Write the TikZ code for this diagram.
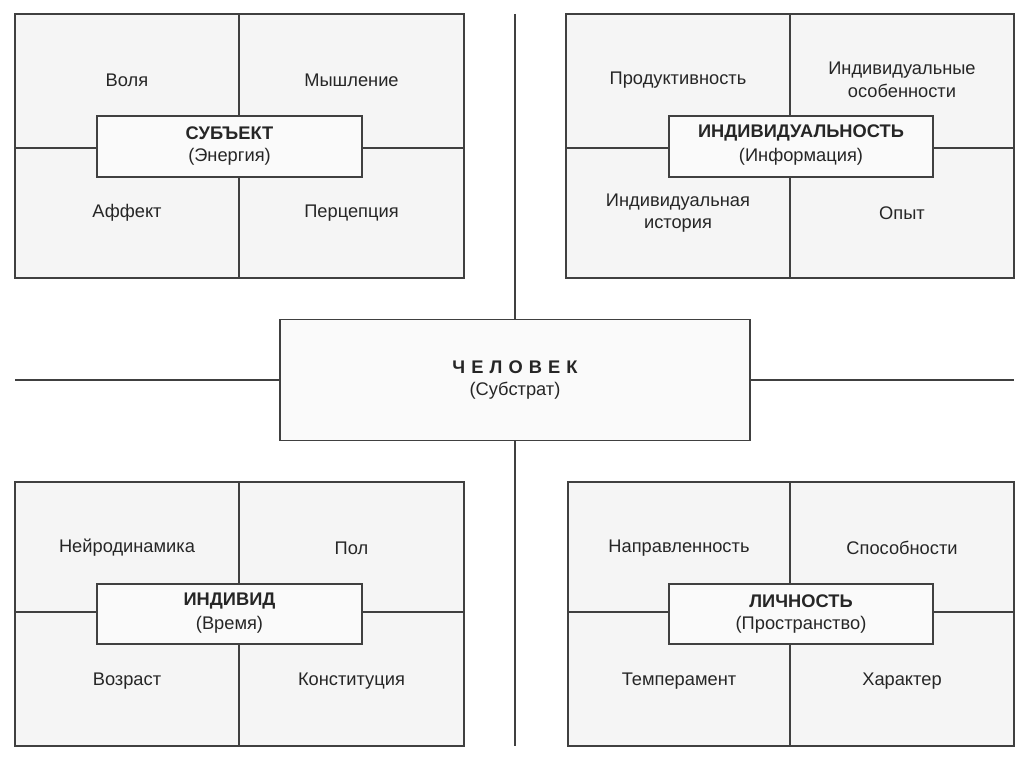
\documentclass[tikz,border=0pt]{standalone}
\usepackage{fontspec}
\setmainfont{Liberation Sans}
\begin{document}
\begin{tikzpicture}[x=0.02cm,y=-0.02cm,
  ln/.style={draw=black!75,line width=0.8pt},
  cell/.style={ln,fill=black!4},
  cbox/.style={ln,fill=black!2},
  txt/.style={font=\fontsize{10.4}{12.8}\selectfont,align=center,text=black!85}]
\useasboundingbox (0,0) rectangle (1024,767);
\coordinate (t) at (515,14); \coordinate (b) at (515,746);
\coordinate (l) at (15,380); \coordinate (r) at (1014,380);
\node[cbox,minimum width=470*0.02cm,minimum height=121*0.02cm] (man) at (515,380) {};
\draw[ln] (t) -- (man.north); \draw[ln] (man.south) -- (b);
\draw[ln] (l) -- (man.west); \draw[ln] (man.east) -- (r);
\node[txt] at (515,367) {\textbf{Ч\,\,Е\,\,Л\,\,О\,\,В\,\,Е\,\,К}};
\node[txt] at (515,391) {(Субстрат)};
\foreach \xa/\xb/\xm/\ya/\yb/\ym/\bx/\by/\bxb/\byb/\ti/\su/\ca/\cb/\cc/\cd in {
 15/464/239/14/278/148/97/116/362/177/СУБЪЕКТ/(Энергия)/Воля/Мышление/Аффект/Перцепция,
 566/1014/790/14/278/148/669/116/933/177/ИНДИВИДУАЛЬНОСТЬ/(Информация)/Продуктивность/{Индивидуальные\\особенности}/{Индивидуальная\\история}/Опыт,
 15/464/239/482/746/612/97/584/362/644/ИНДИВИД/(Время)/Нейродинамика/Пол/Возраст/Конституция,
 568/1014/790/482/746/612/669/584/933/644/ЛИЧНОСТЬ/(Пространство)/Направленность/Способности/Темперамент/Характер}{
 \draw[cell] (\xa,\ya) rectangle (\xb,\yb);
 \draw[ln] (\xm,\ya) -- (\xm,\yb);
 \draw[ln] (\xa,\ym) -- (\xb,\ym);
 \draw[cbox] (\bx,\by) rectangle (\bxb,\byb);
 \node[txt] at ({(\bx+\bxb)/2},{\by+17}) {\textbf{\ti}};
 \node[txt] at ({(\bx+\bxb)/2},{\by+41}) {\su};
 \node[txt] at ({(\xa+\xm)/2},{\ya+66}) {\ca};
 \node[txt] at ({(\xm+\xb)/2},{\ya+66}) {\cb};
 \node[txt] at ({(\xa+\xm)/2},{\ya+199}) {\cc};
 \node[txt] at ({(\xm+\xb)/2},{\ya+199}) {\cd};
}
\end{tikzpicture}
\end{document}
